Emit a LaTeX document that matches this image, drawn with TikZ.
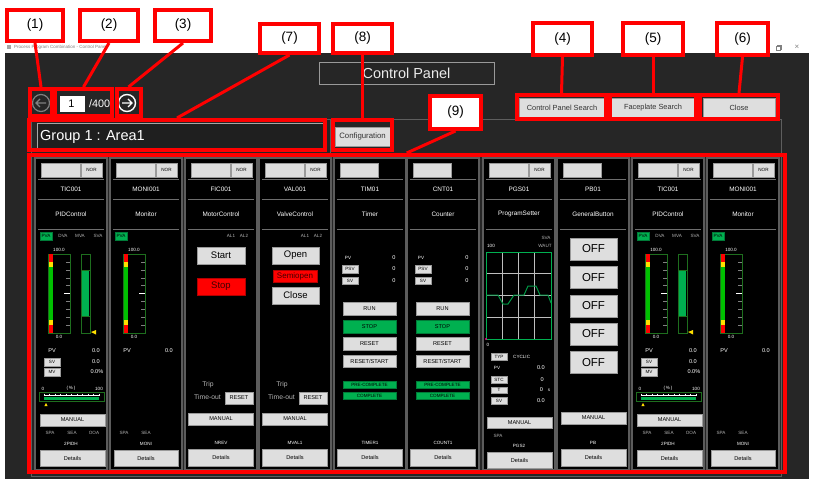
\documentclass[tikz,border=0pt]{standalone}
\usepackage{fontspec}
\setmainfont{Liberation Sans}
\definecolor{winbg}{HTML}{262626}
\definecolor{colline}{HTML}{5C5C5C}
\definecolor{sepc}{HTML}{6E6E6E}
\definecolor{btnfill}{HTML}{DEDEDE}
\definecolor{btnline}{HTML}{9A9A9A}
\definecolor{okgreen}{HTML}{00B050}
\definecolor{bargreen}{HTML}{00C000}
\definecolor{dkgreen}{HTML}{1E6E1E}
\definecolor{annred}{HTML}{FF0000}
\definecolor{lgray}{HTML}{B4B4B4}
\definecolor{ylw}{HTML}{FFE000}
\definecolor{gridc}{HTML}{BEBEBE}
\definecolor{frameg}{HTML}{5E5E5E}
\newcommand{\fsA}{\fontsize{4.6}{5}\selectfont}
\newcommand{\fsB}{\fontsize{5.6}{6}\selectfont}
\newcommand{\fsC}{\fontsize{6.4}{7}\selectfont}
\newcommand{\fsD}{\fontsize{9.5}{10}\selectfont}
\newcommand{\fsE}{\fontsize{11.5}{12}\selectfont}
\newcommand{\fsSemi}{\fontsize{8}{9}\selectfont}
\newcommand{\fsTrip}{\fontsize{6.8}{7}\selectfont}
\tikzset{
 colbox/.style={draw=colline, fill=black, line width=1.5pt},
 sepl/.style={draw=sepc, line width=0.8pt},
 uibtn/.style={draw=btnline, fill=btnfill, line width=0.5pt},
 gbtn/.style={draw=okgreen!70!black, fill=okgreen, line width=0.5pt},
 rbtn/.style={draw=red!70!black, fill=red, line width=0.5pt},
 wt/.style={text=white, inner sep=0pt},
 gt/.style={text=lgray, inner sep=0pt},
 bt/.style={text=black, inner sep=0pt},
 target/.style={draw=annred, line width=4pt, inner sep=0pt},
 lab/.style={draw=annred, fill=white, line width=4pt, inner sep=0pt, font=\fontsize{13.5}{15}\selectfont},
 leader/.style={draw=annred, line width=3pt},
 winbtn/.style={draw=btnline, fill=btnfill, line width=0.6pt},
}
% ---------- faceplate pieces ----------
\newcommand{\fphead}[4]{%
 \draw[colbox] (0,158) rectangle (72,470);
 \ifnum#4=1
   \path[uibtn] (6,163) rectangle (45,177) node[pos=.5] (#1top) {};
   \path[uibtn] (46,163) rectangle (67,177) node[pos=.5,bt,font=\fsA] (#1nor) {NOR};
 \else
   \path[uibtn] (6,163) rectangle (44,177) node[pos=.5] (#1top) {};
 \fi
 \draw[sepl] (3,179) -- (69,179);
 \draw[sepl] (3,199) -- (69,199);
 \draw[sepl] (3,229) -- (69,229);
 \node[wt,font=\fsC] (#1tag) at (36,189) {#2};
 \node[wt,font=\fsC] (#1type) at (36,214) {#3};
}
\newcommand{\pvbar}[1]{%
 \node[wt,font=\fsA] (#1hi) at (24,250) {100.0};
 \draw[dkgreen, line width=0.8pt, fill=black] (13,254) rectangle (35,333);
 \fill[red] (14,254.5) rectangle (18,262);
 \fill[ylw] (14,262) rectangle (18,267);
 \fill[bargreen] (14,267) rectangle (18,320);
 \fill[ylw] (14,320) rectangle (18,325);
 \fill[red] (14,325) rectangle (18,332.5);
 \foreach \k in {1,...,9} \draw[gray, line width=0.4pt] (31,{254+\k*7.9}) -- (34.5,{254+\k*7.9});
 \draw[white, line width=0.6pt] (29,293.5) -- (34.5,293.5);
 \node[wt,font=\fsA] (#1lo) at (24,337) {0.0};
}
\newcommand{\fpPID}[2]{%
\begin{scope}[shift={(#2,0)}]
 \fphead{#1}{TIC001}{PIDControl}{1}
 \path[gbtn] (5,232) rectangle (17,240) node[pos=.5,bt,font=\fsA] (#1pva) {PVA};
 \node[gt,font=\fsA] (#1dva) at (28,236) {DVA};
 \node[gt,font=\fsA] (#1mva) at (45,236) {MVA};
 \node[gt,font=\fsA] (#1sva) at (63,236) {SVA};
 \pvbar{#1}
 \draw[dkgreen, line width=0.8pt, fill=black] (46,254) rectangle (55,333);
 \fill[okgreen] (46.6,270) rectangle (54.4,316);
 \draw[dkgreen, line width=0.6pt] (46,270) -- (55,270) (46,316) -- (55,316);
 \fill[ylw] (56,332) -- (61,330) -- (61,334.5) -- cycle;
 \node[wt,font=\fsB] (#1pv) at (17,351) {PV};
 \node[wt,font=\fsB,anchor=east] (#1pvv) at (65,351) {0.0};
 \path[uibtn] (9,358) rectangle (25,366) node[pos=.5,bt,font=\fsA] (#1sv) {SV};
 \node[wt,font=\fsB,anchor=east] (#1svv) at (65,362) {0.0};
 \path[uibtn] (9,368) rectangle (25,376) node[pos=.5,bt,font=\fsA] (#1mv) {MV};
 \node[wt,font=\fsB,anchor=east] (#1mvv) at (68.5,372) {0.0\%};
 \node[wt,font=\fsA] (#1s0) at (8,388.5) {0};
 \node[wt,font=\fsA] (#1sp) at (36,388.5) {(\,\%\,)};
 \node[wt,font=\fsA] (#1sh) at (64,388.5) {100};
 \draw[dkgreen, line width=0.8pt, fill=black] (4,392) rectangle (69,401);
 \fill[okgreen] (9,396.5) rectangle (64,400.3);
 \draw[white, line width=0.5pt] (9,394.8) -- (64,394.8);
 \foreach \k in {0,...,10} \draw[white, line width=0.35pt] ({9+\k*5.5},393.6) -- ({9+\k*5.5},396.3);
 \fill[ylw] (11,403) -- (9.3,406.2) -- (12.7,406.2) -- cycle;
 \path[uibtn] (5,414) rectangle (70,426) node[pos=.5,bt,font=\fsB] (#1man) {MANUAL};
 \node[gt,font=\fsA] (#1spa) at (15,433) {SPA};
 \node[gt,font=\fsA] (#1sea) at (37,433) {SEA};
 \node[gt,font=\fsA] (#1ooa) at (59,433) {OOA};
 \node[wt,font=\fsA] (#1bl) at (36,444) {2PIDH};
 \path[uibtn] (5,450) rectangle (70,466) node[pos=.5,bt,font=\fsB] (#1det) {Details};
\end{scope}}
\newcommand{\fpMON}[2]{%
\begin{scope}[shift={(#2,0)}]
 \fphead{#1}{MONI001}{Monitor}{1}
 \path[gbtn] (5,232) rectangle (17,240) node[pos=.5,bt,font=\fsA] (#1pva) {PVA};
 \pvbar{#1}
 \node[wt,font=\fsB] (#1pv) at (17,351) {PV};
 \node[wt,font=\fsB,anchor=east] (#1pvv) at (63,351) {0.0};
 \node[gt,font=\fsA] (#1spa) at (14,433) {SPA};
 \node[gt,font=\fsA] (#1sea) at (36,433) {SEA};
 \node[wt,font=\fsA] (#1bl) at (36,444) {MONI};
 \path[uibtn] (4,450) rectangle (68,466) node[pos=.5,bt,font=\fsB] (#1det) {Details};
\end{scope}}
\newcommand{\tripblock}[2]{%
 \node[gt,font=\fsTrip] (#1trip) at (23,385) {Trip};
 \node[gt,font=\fsTrip] (#1tout) at (22.5,397.5) {Time-out};
 \path[uibtn] (40,392) rectangle (68,404) node[pos=.5,bt,font=\fsB] (#1rst) {RESET};
 \path[uibtn] (3.5,413) rectangle (68.5,425) node[pos=.5,bt,font=\fsB] (#1man) {MANUAL};
 \node[wt,font=\fsA] (#1bl) at (36,443) {#2};
 \path[uibtn] (3.5,449) rectangle (68.5,466) node[pos=.5,bt,font=\fsB] (#1det) {Details};
}
\newcommand{\fpMotor}[2]{%
\begin{scope}[shift={(#2,0)}]
 \fphead{#1}{FIC001}{MotorControl}{1}
 \node[gt,font=\fsA] (#1al1) at (46,236) {AL1};
 \node[gt,font=\fsA] (#1al2) at (59,236) {AL2};
 \path[uibtn] (12,247) rectangle (60,264) node[pos=.5,bt,font=\fsD] (#1start) {Start};
 \path[rbtn] (12,278) rectangle (60,295) node[pos=.5,inner sep=0,text=red!25!black,font=\fsD] (#1stop) {Stop};
 \tripblock{#1}{NREV}
\end{scope}}
\newcommand{\fpValve}[2]{%
\begin{scope}[shift={(#2,0)}]
 \fphead{#1}{VAL001}{ValveControl}{1}
 \node[gt,font=\fsA] (#1al1) at (46,236) {AL1};
 \node[gt,font=\fsA] (#1al2) at (59,236) {AL2};
 \path[uibtn] (13,247) rectangle (60,264) node[pos=.5,bt,font=\fsD] (#1open) {Open};
 \path[rbtn] (14,270) rectangle (58,282) node[pos=.5,inner sep=0,text=red!25!black,font=\fsSemi] (#1semi) {Semiopen};
 \path[uibtn] (13,287) rectangle (60,304) node[pos=.5,bt,font=\fsD] (#1close) {Close};
 \tripblock{#1}{MVAL1}
\end{scope}}
\newcommand{\fpTimer}[5]{%
\begin{scope}[shift={(#2,0)}]
 \fphead{#1}{#3}{#4}{0}
 \node[wt,font=\fsA] (#1pv) at (14,258) {PV};
 \node[wt,font=\fsB] (#1pvv) at (60,258) {0};
 \path[uibtn] (8,265) rectangle (24,273) node[pos=.5,bt,font=\fsA] (#1psv) {PSV};
 \node[wt,font=\fsB] (#1psvv) at (60,269) {0};
 \path[uibtn] (8,277) rectangle (24,284) node[pos=.5,bt,font=\fsA] (#1sv) {SV};
 \node[wt,font=\fsB] (#1svv) at (60,280.5) {0};
 \path[uibtn] (9,302) rectangle (62,315) node[pos=.5,bt,font=\fsB] (#1run) {RUN};
 \path[gbtn] (9,320) rectangle (62,333) node[pos=.5,bt,font=\fsB] (#1stop) {STOP};
 \path[uibtn] (9,337) rectangle (62,350) node[pos=.5,bt,font=\fsB] (#1rst) {RESET};
 \path[uibtn] (9,355) rectangle (62,367) node[pos=.5,bt,font=\fsB] (#1rs) {RESET/START};
 \path[gbtn] (9,381) rectangle (62,388) node[pos=.5,bt,font=\fsA] (#1pre) {PRE-COMPLETE};
 \path[gbtn] (9,392) rectangle (62,399) node[pos=.5,bt,font=\fsA] (#1cmp) {COMPLETE};
 \node[wt,font=\fsA] (#1bl) at (36,443) {#5};
 \path[uibtn] (3.5,449) rectangle (68.5,466) node[pos=.5,bt,font=\fsB] (#1det) {Details};
\end{scope}}
\newcommand{\fpPGS}[2]{%
\begin{scope}[shift={(#2,0)}]
 \fphead{#1}{PGS01}{ProgramSetter}{1}
 \node[gt,font=\fsA] (#1sva) at (63,238) {SVA};
 \node[wt,font=\fsA] (#1hi) at (8,246) {100};
 \node[gt,font=\fsA] (#1waut) at (62,246) {WAUT};
 \foreach \k in {1,2,3} {
   \draw[gridc, line width=0.6pt] ({3+\k*16.25},252) -- ({3+\k*16.25},339);
   \draw[gridc, line width=0.6pt] (3,{252+\k*21.75}) -- (68,{252+\k*21.75});
 }
 \draw[okgreen, line width=0.8pt] (3,252) rectangle (68,339);
 \draw[okgreen!85!black, line width=1pt] (3,295) -- (15,295) -- (20,304) -- (25,304) -- (31,295) -- (41,295) -- (45,286) -- (53,286) -- (57,295) -- (65,295) -- (68,303);
 \fill[magenta] (3,339) circle (1.1);
 \node[wt,font=\fsA] (#1lo) at (5,344.5) {0};
 \path[uibtn] (8,353) rectangle (24,360) node[pos=.5,bt,font=\fsA] (#1typ) {TYP};
 \node[wt,font=\fsA,anchor=west] (#1cyc) at (30,356.5) {CYCLIC};
 \node[wt,font=\fsA] (#1pv) at (14,368) {PV};
 \node[wt,font=\fsB,anchor=east] (#1pvv) at (62,368) {0.0};
 \path[uibtn] (8,376) rectangle (24,383) node[pos=.5,bt,font=\fsA] (#1stc) {STC};
 \node[wt,font=\fsB,anchor=east] (#1stcv) at (61,380) {0};
 \path[uibtn] (8,387) rectangle (24,393) node[pos=.5,bt,font=\fsA] (#1t) {T};
 \node[wt,font=\fsB] (#1tv) at (58.5,390) {0};
 \node[wt,font=\fsA] (#1ts) at (66,390) {s};
 \path[uibtn] (8,397) rectangle (24,404) node[pos=.5,bt,font=\fsA] (#1sv) {SV};
 \node[wt,font=\fsB,anchor=east] (#1svv) at (62,400.5) {0.0};
 \path[uibtn] (4,417) rectangle (69,428) node[pos=.5,bt,font=\fsB] (#1man) {MANUAL};
 \node[gt,font=\fsA] (#1spa) at (15,436) {SPA};
 \node[wt,font=\fsA] (#1bl) at (36,446) {PGS2};
 \path[uibtn] (4,452) rectangle (69,468) node[pos=.5,bt,font=\fsB] (#1det) {Details};
\end{scope}}
\newcommand{\fpGB}[2]{%
\begin{scope}[shift={(#2,0)}]
 \fphead{#1}{PB01}{GeneralButton}{0}
 \foreach \yy [count=\k] in {238,266.5,295,323,351.5}
   \path[uibtn] (13,\yy) rectangle (60,\yy+22) node[pos=.5,bt,font=\fsE] (#1off\k) {OFF};
 \path[uibtn] (4,412) rectangle (69,424) node[pos=.5,bt,font=\fsB] (#1man) {MANUAL};
 \node[wt,font=\fsA] (#1bl) at (36,443) {PB};
 \path[uibtn] (4,449) rectangle (69,466) node[pos=.5,bt,font=\fsB] (#1det) {Details};
\end{scope}}

\begin{document}
\begin{tikzpicture}[x=1pt,y=-1pt]
\useasboundingbox (0,0) rectangle (816,486);
\fill[white] (0,0) rectangle (816,486);
% title bar
\fill[gray!70] (7,45) rectangle (11,49);
\node[anchor=west, text=gray, font=\fontsize{4.5}{5}\selectfont, inner sep=0] (wtitle) at (14,47) {Process Program Combination - Control Panel};
\draw[gray, line width=0.5pt] (776,46.5) rectangle (780,50.5);
\draw[gray, line width=0.5pt] (777.5,46.5) -- (777.5,45) -- (781.5,45) -- (781.5,49) -- (780,49);
\node[text=gray, font=\fontsize{8}{8}\selectfont, inner sep=0] (wclose) at (797,47.5) {×};
% window body
\fill[winbg] (5,53) rectangle (809,479);
\draw[gray!80, line width=0.8pt] (319,62) rectangle (494,84);
\node[text=white!92!black, font=\fontsize{14.5}{16}\selectfont, inner sep=0] (cptitle) at (406.5,73.5) {Control Panel};
% page navigation
\node[circle, draw=gray, line width=1.2pt, minimum size=17pt, inner sep=0] (prev) at (41,103) {};
\draw[gray, line width=1.4pt] (prev.center) ++(5,0) -- ++(-10,0) ++(4,-4) -- ++(-4,4) -- ++(4,4);
\node[circle, draw=white, line width=1.4pt, minimum size=17pt, inner sep=0] (next) at (127,103) {};
\draw[white, line width=1.4pt] (next.center) ++(-5,0) -- ++(10,0) ++(-4,-4) -- ++(4,4) -- ++(-4,4);
\fill[white] (60,96) rectangle (85,112);
\node[text=black, font=\fontsize{11}{12}\selectfont, inner sep=0] (pageno) at (71.5,104) {1};
\node[anchor=west, text=white, font=\fontsize{10.8}{12}\selectfont, inner sep=0] (pagetot) at (89,104) {/400};
% group frame
\draw[frameg, line width=0.8pt] (31,119) rectangle (781,476);
\draw[frameg, line width=0.8pt] (330,119) -- (330,153);
\draw[gray!70, line width=0.8pt, fill=black!88] (37,123) rectangle (325,150);
\node[anchor=west, text=white, font=\fontsize{14.5}{16}\selectfont, inner sep=0] (grp) at (40,137) {Group 1 : Area1};
\path[winbtn] (335,127) rectangle (390,146) node[pos=.5, text=black!80, font=\fontsize{7.8}{8}\selectfont, inner sep=0] (cfg) {Configuration};
\path[winbtn] (519,98) rectangle (605,117) node[pos=.5, text=black!80, font=\fontsize{7.4}{8}\selectfont, inner sep=0] (cps) {Control Panel Search};
\path[winbtn] (611,98) rectangle (695,117) node[pos=.5, text=black!80, font=\fontsize{7.4}{8}\selectfont, inner sep=0] (fps) {Faceplate Search};
\path[winbtn] (703,98) rectangle (775,117) node[pos=.5, text=black!80, font=\fontsize{7.4}{8}\selectfont, inner sep=0] (cls) {Close};
% faceplates
\fpPID{a}{35}
\fpMON{b}{110}
\fpMotor{c}{185}
\fpValve{d}{259}
\fpTimer{e}{334}{TIM01}{Timer}{TIMER1}
\fpTimer{f}{407}{CNT01}{Counter}{COUNT1}
\fpPGS{g}{483}
\fpGB{h}{557}
\fpPID{i}{632}
\fpMON{j}{707}
% annotation targets
\node[target, minimum width=22pt, minimum height=27pt] (t1) at (41,102.5) {};
\node[target, minimum width=57pt, minimum height=27pt] (t2) at (83.5,102.5) {};
\node[target, minimum width=24pt, minimum height=27pt] (t3) at (128.5,102.5) {};
\node[target, minimum width=296pt, minimum height=30pt] (t7) at (177,135) {};
\node[target, minimum width=59pt, minimum height=30pt] (t8) at (362.5,135) {};
\node[target, minimum width=89pt, minimum height=24pt] (t4) at (561.5,107) {};
\node[target, minimum width=86pt, minimum height=24pt] (t5) at (653,107) {};
\node[target, minimum width=78pt, minimum height=24pt] (t6) at (739,107) {};
\node[target, minimum width=756.5pt, minimum height=317pt] (t9) at (406.75,313.5) {};
% annotation labels
\node[lab, minimum width=56pt, minimum height=31pt] (l1) at (35,25.5) {(1)};
\node[lab, minimum width=58pt, minimum height=31pt] (l2) at (109,25.5) {(2)};
\node[lab, minimum width=56pt, minimum height=31pt] (l3) at (183,25.5) {(3)};
\node[lab, minimum width=59pt, minimum height=29pt] (l7) at (289.5,38.5) {(7)};
\node[lab, minimum width=59pt, minimum height=29pt] (l8) at (362.5,38.5) {(8)};
\node[lab, minimum width=59pt, minimum height=32pt] (l4) at (562.5,39) {(4)};
\node[lab, minimum width=60pt, minimum height=32pt] (l5) at (653,39) {(5)};
\node[lab, minimum width=51pt, minimum height=32pt] (l6) at (742.5,39) {(6)};
\node[lab, minimum width=51pt, minimum height=33pt] (l9) at (455.5,112.5) {(9)};
% leaders
\draw[leader] (l1.south) -- (t1.north);
\draw[leader] (l2.south) -- (t2.north);
\draw[leader] (l3.south) -- (t3.north);
\draw[leader] (l7.south) -- (t7.north);
\draw[leader] (l8.south) -- (t8.north);
\draw[leader] (l4.south) -- (t4.north);
\draw[leader] (l5.south) -- (t5.north);
\draw[leader] (l6.south) -- (t6.north);
\draw[leader] (l9.south) -- (t9.north);
\end{tikzpicture}
\end{document}
